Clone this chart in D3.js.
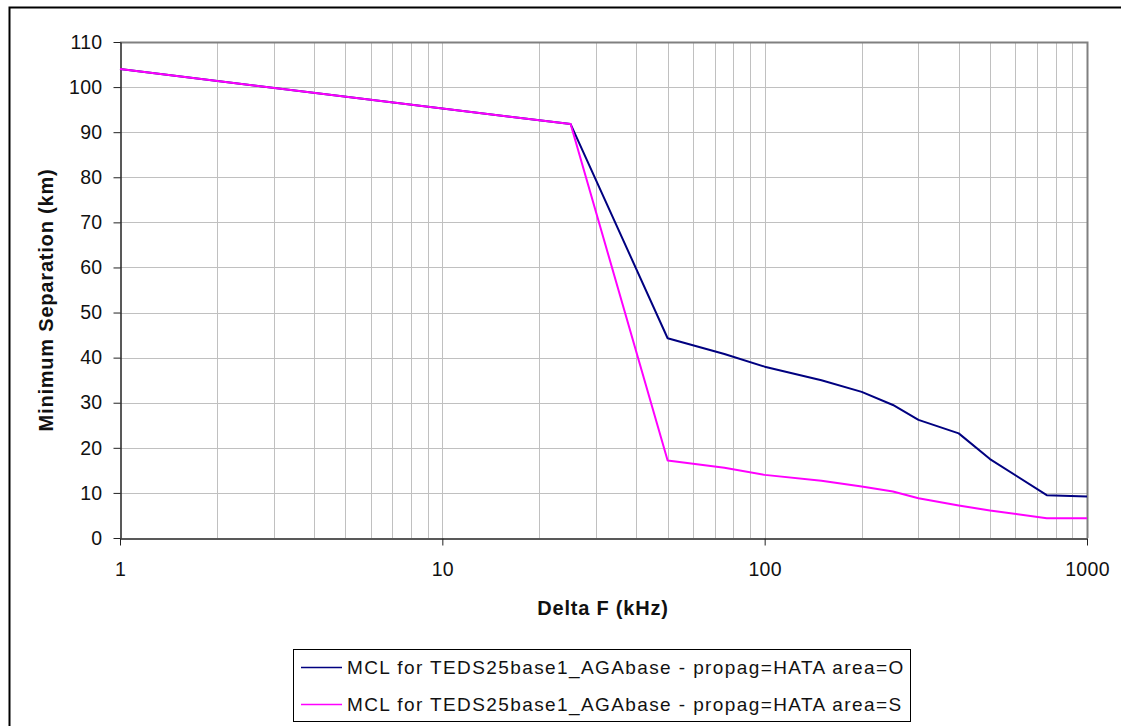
<!DOCTYPE html>
<html>
<head>
<meta charset="utf-8">
<script src="https://cdn.jsdelivr.net/npm/d3@7"></script>
<style>
  body { margin: 0; background: #fff; }
  text { font-family: "Liberation Sans", Arial, sans-serif; }
</style>
</head>
<body>
<div id="chart"></div>
<script>
// data
const deltaF = [1, 25, 50, 75, 100, 150, 200, 250, 300, 400, 500, 750, 1000];
const areaO = [104.0, 91.8, 44.3, 40.8, 38.0, 35.0, 32.4, 29.5, 26.2, 23.2, 17.5, 9.5, 9.2];
const areaS = [104.0, 91.8, 17.2, 15.6, 14.0, 12.7, 11.4, 10.3, 8.8, 7.2, 6.1, 4.4, 4.4];
const seriesNames = [
    "MCL for TEDS25base1_AGAbase - propag=HATA area=O",
    "MCL for TEDS25base1_AGAbase - propag=HATA area=S"
];
const colors = ["#000080", "#ff00ff"];
const yTicks = [0, 10, 20, 30, 40, 50, 60, 70, 80, 90, 100, 110];
const xTicks = [1, 10, 100, 1000];

function init() {
    let width = 1121;
    let height = 726;
    let left = 120, right = 1087, top = 42, bottom = 538;

    let svg = d3.select("#chart").append("svg")
        .attr("width", width)
        .attr("height", height);

    // outer chart border (only top and left visible)
    svg.append("path")
        .attr("d", "M9.5," + height + " L9.5,7.5 L" + width + ",7.5")
        .attr("fill", "none")
        .attr("stroke", "#000")
        .attr("stroke-width", 2);

    let x = d3.scaleLog().domain([1, 1000]).range([left, right]);
    let y = d3.scaleLinear().domain([0, 110]).range([bottom, top]);

    // minor + major vertical grid lines
    let gridX = [];
    for (let dec = 1; dec < 1000; dec *= 10) {
        for (let k = 1; k <= 10; k++) gridX.push(dec * k);
    }
    gridX = Array.from(new Set(gridX)).filter(d => d > 1 && d < 1000);
    svg.append("g").selectAll("line")
        .data(gridX)
        .join("line")
        .attr("x1", d => Math.round(x(d)) + 0.5)
        .attr("x2", d => Math.round(x(d)) + 0.5)
        .attr("y1", top)
        .attr("y2", bottom)
        .attr("stroke", "#c0c0c0")
        .attr("stroke-width", 1);

    svg.append("g").selectAll("line")
        .data(yTicks.filter(d => d > 0 && d < 110))
        .join("line")
        .attr("x1", left)
        .attr("x2", right)
        .attr("y1", d => Math.round(y(d)) + 0.5)
        .attr("y2", d => Math.round(y(d)) + 0.5)
        .attr("stroke", "#c0c0c0")
        .attr("stroke-width", 1);

    // plot frame, top and right in gray
    svg.append("path")
        .attr("d", "M" + left + "," + (top + 0.5) + " L" + (right + 0.5) + "," + (top + 0.5) + " L" + (right + 0.5) + "," + bottom)
        .attr("fill", "none")
        .attr("stroke", "#808080")
        .attr("stroke-width", 2);

    // y axis
    let yAxis = svg.append("g")
        .attr("transform", "translate(" + (left + 0.5) + ",0)")
        .call(d3.axisLeft(y).tickValues(yTicks).tickSize(7).tickSizeOuter(0).tickPadding(11));
    yAxis.select(".domain").attr("stroke", "#222").attr("stroke-width", 1.5);
    yAxis.selectAll(".tick line").attr("stroke", "#222");
    yAxis.selectAll("text")
        .attr("font-size", 19.5)
        .attr("letter-spacing", 0.3)
        .attr("fill", "#111")
        .style("font-family", "'Liberation Sans', Arial, sans-serif");

    // x axis
    let xAxis = svg.append("g")
        .attr("transform", "translate(0," + (bottom + 0.5) + ")")
        .call(d3.axisBottom(x).tickValues(xTicks).tickFormat(d3.format("d")).tickSize(7).tickSizeOuter(0).tickPadding(17));
    xAxis.select(".domain").attr("stroke", "#222").attr("stroke-width", 1.5);
    xAxis.selectAll(".tick line").attr("stroke", "#222");
    xAxis.selectAll("text")
        .attr("font-size", 19.5)
        .attr("letter-spacing", 0.3)
        .attr("fill", "#111")
        .style("font-family", "'Liberation Sans', Arial, sans-serif");

    // axis titles
    svg.append("text")
        .attr("x", 603)
        .attr("y", 615)
        .attr("text-anchor", "middle")
        .attr("font-size", 20)
        .attr("letter-spacing", 0.8)
        .attr("font-weight", "bold")
        .attr("fill", "#111")
        .text("Delta F (kHz)");

    svg.append("text")
        .attr("transform", "translate(53," + 300 + ") rotate(-90)")
        .attr("text-anchor", "middle")
        .attr("font-size", 20)
        .attr("letter-spacing", 0.8)
        .attr("font-weight", "bold")
        .attr("fill", "#111")
        .text("Minimum Separation (km)");

    // lines
    let line = d3.line()
        .x(d => x(d[0]))
        .y(d => y(d[1]));
    let series = [areaO, areaS];
    svg.append("g").selectAll("path")
        .data(series)
        .join("path")
        .attr("d", s => line(deltaF.map((f, i) => [f, s[i]])))
        .attr("fill", "none")
        .attr("stroke", (_, i) => colors[i])
        .attr("stroke-width", 2)
        .attr("stroke-linejoin", "round");

    // legend
    let lg = svg.append("g");
    lg.append("rect")
        .attr("x", 293.5)
        .attr("y", 649.5)
        .attr("width", 617)
        .attr("height", 72)
        .attr("fill", "#fff")
        .attr("stroke", "#000")
        .attr("stroke-width", 1);
    seriesNames.forEach((name, i) => {
        let ly = 667 + i * 37;
        lg.append("line")
            .attr("x1", 301)
            .attr("x2", 342)
            .attr("y1", ly + 0.5)
            .attr("y2", ly + 0.5)
            .attr("stroke", colors[i])
            .attr("stroke-width", 1.5);
        lg.append("text")
            .attr("x", 347)
            .attr("y", ly + 7)
            .attr("font-size", 19)
            .attr("letter-spacing", 1.4)
            .attr("fill", "#111")
            .text(name);
    });
}
window.onload = init;
</script>
</body>
</html>
